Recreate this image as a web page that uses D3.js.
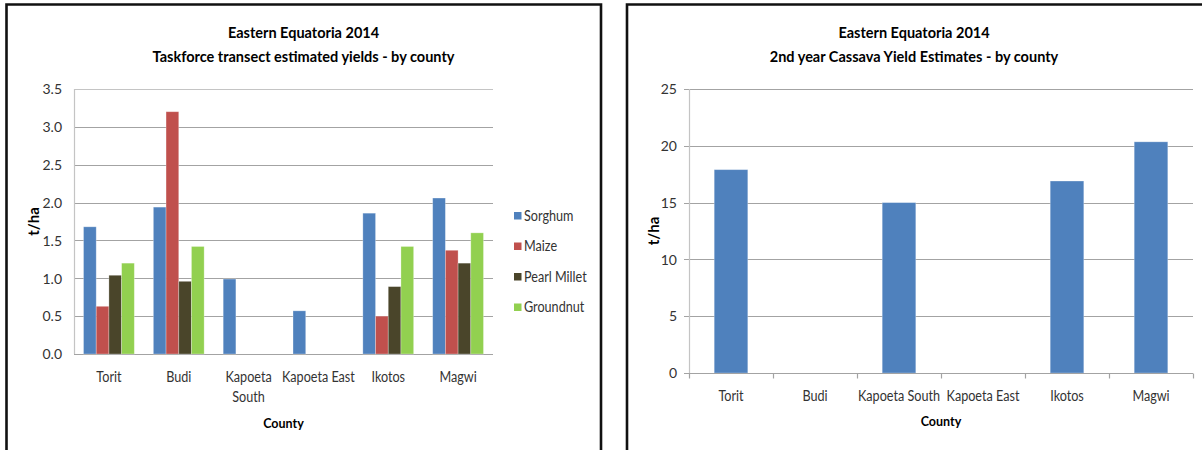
<!DOCTYPE html>
<html>
<head>
<meta charset="utf-8">
<script src="https://cdn.jsdelivr.net/npm/d3@7"></script>
<style>
  body { margin: 0; background: #fff; }
  svg { display: block; }
  text { font-family: Lato, "Open Sans", "Liberation Sans", sans-serif; }
</style>
</head>
<body>
<svg id="chart" width="1202" height="450"></svg>
<script>
// County yield estimates, Eastern Equatoria 2014 (t/ha)
const counties = ["Torit", "Budi", "Kapoeta South", "Kapoeta East", "Ikotos", "Magwi"];
const crops = ["Sorghum", "Maize", "Pearl Millet", "Groundnut"];
const sorghum = [1.68, 1.94, 0.99, 0.57, 1.86, 2.06];
const maize = [0.63, 3.20, null, null, 0.50, 1.37];
const pearlMillet = [1.04, 0.96, null, null, 0.89, 1.20];
const groundnut = [1.20, 1.42, null, null, 1.42, 1.60];
const cassava = [17.9, null, 15.0, null, 16.9, 20.35];

const yieldTicks = [0, 0.5, 1.0, 1.5, 2.0, 2.5, 3.0, 3.5];
const cassavaTicks = [0, 5, 10, 15, 20, 25];
const cropColors = ["#4F81BD", "#C0504D", "#4A452A", "#92D050"];
const cassavaColor = "#4F81BD";

const cropSeries = [sorghum, maize, pearlMillet, groundnut];

// narrow-set label: horizontally condensed text placed at (x, y)
const NARROW = 0.87;
function narrowText(parent, x, y, str, size, anchor, k = NARROW) {
  return parent.append("text")
    .attr("transform", `translate(${x},${y}) scale(${k},1)`)
    .attr("text-anchor", anchor).attr("font-size", size).attr("fill", "#333").text(str);
}

const svg = d3.select("#chart");
svg.append("rect").attr("width", 1202).attr("height", 450).attr("fill", "#fff");

// Panel frames
svg.append("path")
  .attr("d", "M6.5,460 V4.5 H601 V460")
  .attr("fill", "none").attr("stroke", "#111").attr("stroke-width", 2.6);
svg.append("path")
  .attr("d", "M627,460 V4.5 H1210")
  .attr("fill", "none").attr("stroke", "#111").attr("stroke-width", 2.6);

function titles(cx, lines) {
  lines.forEach((t, i) => {
    svg.append("text").attr("x", cx).attr("y", 38 + i * 24)
      .attr("text-anchor", "middle").attr("font-size", 14.5).attr("font-weight", "bold")
      .attr("fill", "#000").text(t);
  });
}

function axisTitles(plot) {
  svg.append("text")
    .attr("x", (plot.x0 + plot.x1) / 2).attr("y", plot.countyY)
    .attr("text-anchor", "middle").attr("font-size", 12.5).attr("font-weight", "bold")
    .attr("fill", "#000").text("County");
  const cy = (plot.y0 + plot.y1) / 2;
  svg.append("text")
    .attr("transform", `translate(${plot.unitX},${cy}) rotate(-90)`)
    .attr("text-anchor", "middle").attr("font-size", 15).attr("font-weight", "bold")
    .attr("fill", "#000").text("t/ha");
}

function yLabels(g, p, y, ticks, fmt) {
  const ya = g.append("g").attr("transform", `translate(${p.x0 - 12},0)`)
    .call(d3.axisLeft(y).tickValues(ticks).tickFormat(fmt).tickSize(0).tickPadding(0));
  ya.select(".domain").remove();
  ya.selectAll("text").attr("font-size", 14).attr("fill", "#333").attr("dy", "0.34em")
    .style("font-family", "Lato, 'Open Sans', sans-serif");
}

// ---------- Left chart: grouped bars ----------
{
  const p = { x0: 74, x1: 493, y0: 89, y1: 354, countyY: 428, unitX: 39 };
  titles(303.5, ["Eastern Equatoria 2014", "Taskforce transect estimated yields - by county"]);

  const x = d3.scaleBand().domain(counties).range([p.x0, p.x1]).paddingInner(0).paddingOuter(0);
  const barW = x.bandwidth() / 5.5;
  const xs = d3.scaleBand().domain(crops).range([0.75 * barW, x.bandwidth() - 0.75 * barW]);
  const y = d3.scaleLinear().domain([0, 3.5]).range([p.y1, p.y0]);

  const g = svg.append("g");
  // gridlines
  g.selectAll("line.grid").data(yieldTicks).join("line")
    .attr("x1", p.x0).attr("x2", p.x1)
    .attr("y1", d => Math.round(y(d)) + 0.5).attr("y2", d => Math.round(y(d)) + 0.5)
    .attr("stroke", d => d === 3.5 ? "#c4c4c4" : "#a3a3a3").attr("stroke-width", 1.2);
  g.append("line").attr("x1", p.x0 + 0.5).attr("x2", p.x0 + 0.5)
    .attr("y1", p.y0).attr("y2", p.y1).attr("stroke", "#c4c4c4").attr("stroke-width", 1.2);

  yLabels(g, p, y, yieldTicks, d3.format(".1f"));

  // bars
  crops.forEach((c, ci) => {
    const vals = cropSeries[ci];
    g.append("g").selectAll("rect").data(counties.map((k, i) => ({ k, v: vals[i] })).filter(d => d.v != null))
      .join("rect")
      .attr("x", d => x(d.k) + xs(c))
      .attr("width", xs.bandwidth())
      .attr("y", d => y(d.v))
      .attr("height", d => y(0) - y(d.v))
      .attr("fill", cropColors[ci])
      .attr("stroke", "rgba(255,255,255,0.35)").attr("stroke-width", 0.8);
  });

  // x labels (wrapped as in the chart)
  const wrapped = { "Kapoeta South": ["Kapoeta", "South"] };
  counties.forEach(k => {
    const lines = wrapped[k] || [k];
    lines.forEach((ln, li) => {
      narrowText(g, x(k) + x.bandwidth() / 2, 381.5 + li * 20, ln, 14.5, "middle");
    });
  });

  // legend
  const lg = g.append("g").attr("transform", "translate(514,212)");
  crops.forEach((c, ci) => {
    const row = lg.append("g").attr("transform", `translate(0,${ci * 30.5})`);
    row.append("rect").attr("width", 7.5).attr("height", 7.5).attr("fill", cropColors[ci]);
    narrowText(row, 10, 8.5, c, 14.5, "start", 0.87);
  });

  axisTitles(p);
}

// ---------- Right chart: cassava ----------
{
  const p = { x0: 689, x1: 1193, y0: 89, y1: 373, countyY: 426, unitX: 659 };
  titles(914, ["Eastern Equatoria 2014", "2nd year Cassava Yield Estimates - by county"]);

  const x = d3.scaleBand().domain(counties).range([p.x0, p.x1]).paddingInner(0.6).paddingOuter(0.3);
  const band = d3.scaleBand().domain(counties).range([p.x0, p.x1]);
  const y = d3.scaleLinear().domain([0, 25]).range([p.y1, p.y0]);

  const g = svg.append("g");
  g.selectAll("line.grid").data(cassavaTicks.filter(d => d > 0)).join("line")
    .attr("x1", p.x0 - 5).attr("x2", p.x1)
    .attr("y1", d => Math.round(y(d)) + 0.5).attr("y2", d => Math.round(y(d)) + 0.5)
    .attr("stroke", "#a3a3a3").attr("stroke-width", 1.2);
  g.append("line").attr("x1", p.x0 + 0.5).attr("x2", p.x0 + 0.5)
    .attr("y1", p.y0).attr("y2", p.y1).attr("stroke", "#c4c4c4").attr("stroke-width", 1.2);

  yLabels(g, p, y, cassavaTicks, d3.format("d"));

  g.selectAll("rect.bar").data(counties.map((k, i) => ({ k, v: cassava[i] })).filter(d => d.v != null))
    .join("rect")
    .attr("x", d => x(d.k)).attr("width", x.bandwidth())
    .attr("y", d => y(d.v)).attr("height", d => y(0) - y(d.v))
    .attr("fill", cassavaColor)
    .attr("stroke", "rgba(255,255,255,0.35)").attr("stroke-width", 0.8);

  // baseline with category boundary ticks
  const yb = Math.round(y(0)) + 0.5;
  g.append("line").attr("x1", p.x0 - 5).attr("x2", p.x1).attr("y1", yb).attr("y2", yb)
    .attr("stroke", "#a3a3a3").attr("stroke-width", 1.2);
  const bounds = counties.map(k => band(k)).concat([p.x1]);
  g.selectAll("line.tick").data(bounds).join("line")
    .attr("x1", d => Math.round(d) + 0.5).attr("x2", d => Math.round(d) + 0.5)
    .attr("y1", yb).attr("y2", yb + 5).attr("stroke", "#a3a3a3").attr("stroke-width", 1.2);

  counties.forEach(k => {
    narrowText(g, band(k) + band.bandwidth() / 2, 400.5, k, 14.5, "middle");
  });

  axisTitles(p);
}
</script>
</body>
</html>
